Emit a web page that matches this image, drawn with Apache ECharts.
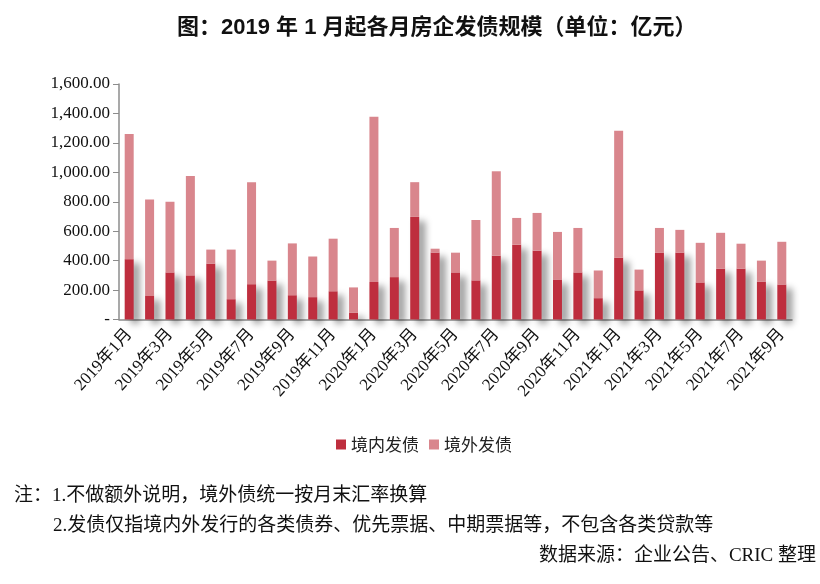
<!DOCTYPE html>
<html>
<head>
<meta charset="utf-8">
<script src="https://cdn.jsdelivr.net/npm/echarts@6/dist/echarts.min.js"></script>
<style>
  html, body { margin: 0; padding: 0; background: #fff; }
  #chart { width: 820px; height: 584px; }
</style>
</head>
<body>
<div id="chart"></div>
<script>
// 各月房企发债规模（亿元），读自原图
const months = [
  '2019年1月', '2019年2月', '2019年3月', '2019年4月', '2019年5月', '2019年6月',
  '2019年7月', '2019年8月', '2019年9月', '2019年10月', '2019年11月', '2019年12月',
  '2020年1月', '2020年2月', '2020年3月', '2020年4月', '2020年5月', '2020年6月',
  '2020年7月', '2020年8月', '2020年9月', '2020年10月', '2020年11月', '2020年12月',
  '2021年1月', '2021年2月', '2021年3月', '2021年4月', '2021年5月', '2021年6月',
  '2021年7月', '2021年8月', '2021年9月'
]
const domestic = [
  410, 160, 320, 300, 380, 138, 240, 265, 165, 152, 192, 45,
  255, 288, 697, 455, 320, 266, 434, 508, 468, 272, 320, 145,
  420, 198, 455, 455, 252, 346, 346, 258, 238
]
const overseas = [
  850, 655, 480, 675, 95, 337, 693, 135, 352, 276, 357, 173,
  1122, 334, 236, 26, 134, 410, 573, 182, 256, 323, 302, 188,
  863, 141, 167, 154, 269, 243, 169, 142, 290
]
const seriesNames = ['境内发债', '境外发债']
const notes = [
  '注：1.不做额外说明，境外债统一按月末汇率换算',
  '2.发债仅指境内外发行的各类债券、优先票据、中期票据等，不包含各类贷款等',
  '数据来源：企业公告、CRIC 整理'
]

const SERIF = '"Liberation Serif", "Noto Sans CJK SC", serif'
const AXIS_GRAY = '#8c8c8c'

const chart = echarts.init(document.getElementById('chart'))

function fmtY(v) {
  if (v === 0) return '-'
  return v.toLocaleString('en-US', { minimumFractionDigits: 2, maximumFractionDigits: 2 })
}

chart.setOption({
  animation: false,
  backgroundColor: '#fff',
  title: {
    text: '图：2019 年 1 月起各月房企发债规模（单位：亿元）',
    left: 172,
    top: 12,
    textStyle: {
      fontFamily: '"Liberation Sans", "Noto Sans CJK SC", sans-serif',
      fontWeight: 'bold',
      fontSize: 22,
      color: '#111'
    }
  },
  legend: {
    data: seriesNames,
    left: 331,
    top: 431,
    icon: 'rect',
    itemWidth: 10,
    itemHeight: 10,
    itemGap: 10,
    textStyle: { fontFamily: '"Noto Sans CJK SC", sans-serif', fontSize: 17, color: '#222' }
  },
  grid: { left: 119, right: 28, top: 84, bottom: 264.5, containLabel: false },
  xAxis: {
    type: 'category',
    data: months,
    axisLine: { lineStyle: { color: AXIS_GRAY, width: 1.5 } },
    axisTick: { alignWithLabel: false, interval: 0, length: 6, lineStyle: { color: AXIS_GRAY } },
    axisLabel: {
      interval: 1,
      rotate: 48,
      margin: 12,
      fontFamily: SERIF,
      fontSize: 17,
      color: '#111'
    }
  },
  yAxis: {
    type: 'value',
    min: 0,
    max: 1600,
    interval: 200,
    splitLine: { show: false },
    axisLine: { show: true, lineStyle: { color: AXIS_GRAY, width: 1.5 } },
    axisTick: { show: true, length: 6, lineStyle: { color: AXIS_GRAY } },
    axisLabel: {
      margin: 9,
      fontFamily: SERIF,
      fontSize: 17,
      color: '#111',
      formatter: fmtY
    }
  },
  series: [
    {
      name: seriesNames[0],
      type: 'bar',
      stack: 'total',
      data: domestic,
      barWidth: 9,
      itemStyle: {
        color: '#BE2E3E',
        shadowColor: 'rgba(0,0,0,0.4)',
        shadowBlur: 7,
        shadowOffsetX: 6,
        shadowOffsetY: 4
      }
    },
    {
      name: seriesNames[1],
      type: 'bar',
      stack: 'total',
      data: overseas,
      barWidth: 9,
      itemStyle: { color: '#D9868D' }
    }
  ],
  graphic: [
    {
      type: 'text', left: 14, top: 487,
      style: { text: notes[0], font: '19px ' + SERIF, fill: '#111' }
    },
    {
      type: 'text', left: 53, top: 517,
      style: { text: notes[1], font: '19px ' + SERIF, fill: '#111' }
    },
    {
      type: 'text', right: 4, top: 547,
      style: { text: notes[2], font: '19px ' + SERIF, fill: '#111' }
    }
  ]
})
</script>
</body>
</html>
